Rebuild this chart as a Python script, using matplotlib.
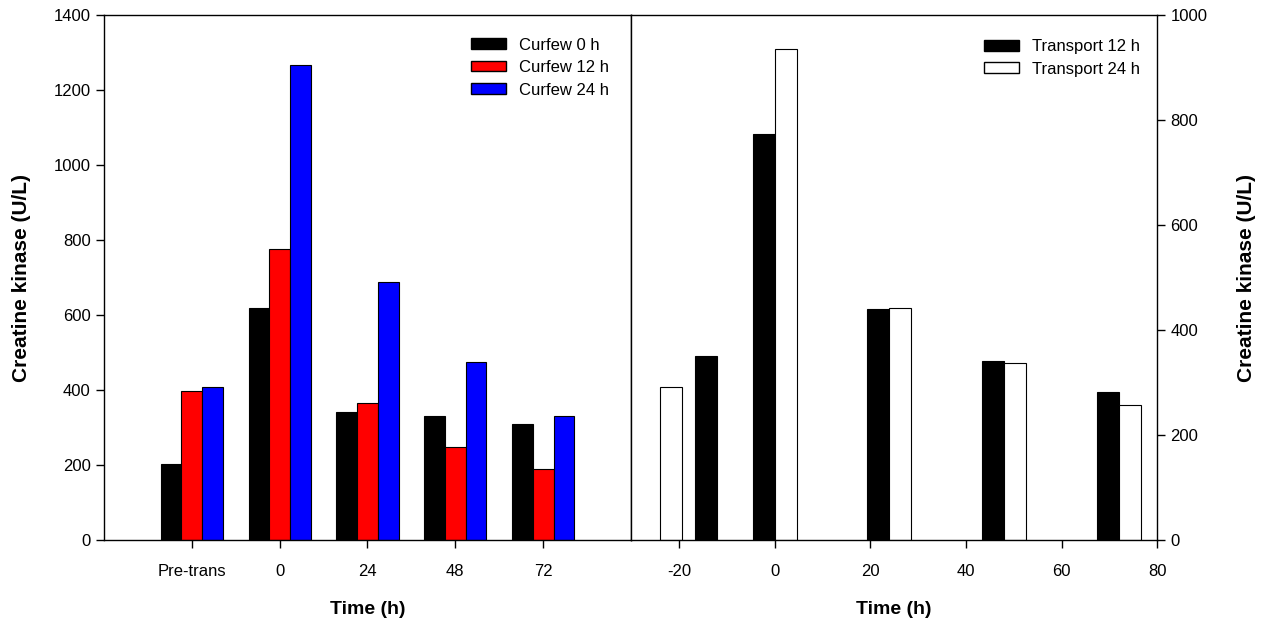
import numpy as np
import matplotlib
matplotlib.use("Agg")
import matplotlib.pyplot as plt
from matplotlib.patches import Patch

plt.rcParams['font.family'] = ['Liberation Sans', 'DejaVu Sans']
plt.rcParams['axes.unicode_minus'] = False

# Curfew experiment (left panel)
curfew_times = ['Pre-trans', '0', '24', '48', '72']
curfew_0h = [202, 618, 342, 330, 309]
curfew_12h = [397, 775, 366, 248, 189]
curfew_24h = [408, 1268, 687, 475, 330]

# Transport experiment (right panel)
transport_12h_t = [-12, 0, 24, 48, 72]
transport_12h = [350, 773, 440, 341, 282]
transport_24h_t = [-24, 0, 24, 48, 72]
transport_24h = [291, 935, 442, 337, 257]

fig = plt.figure(figsize=(12.63, 6.25), dpi=100)
ax1 = fig.add_axes([0.0823, 0.136, 0.4173, 0.840])
ax2 = fig.add_axes([0.4996, 0.136, 0.4167, 0.840])

tick_kw = dict(direction='out', length=6, width=1, labelsize=12)
leg_kw = dict(frameon=False, fontsize=12, handlelength=2.1, handleheight=0.6,
              labelspacing=0.45, handletextpad=0.8, borderpad=0, borderaxespad=0)

# left panel: grouped bars
x = np.arange(1, len(curfew_times) + 1)
w = 0.236
ax1.bar(x - w, curfew_0h, w, color='black', edgecolor='black', linewidth=0.8)
ax1.bar(x, curfew_12h, w, color='red', edgecolor='black', linewidth=0.8)
ax1.bar(x + w, curfew_24h, w, color='blue', edgecolor='black', linewidth=0.8)
ax1.set_xlim(0, 6)
ax1.set_ylim(0, 1400)
ax1.set_xticks(x)
ax1.set_xticklabels(curfew_times)
ax1.set_yticks(np.arange(0, 1401, 200))
ax1.tick_params(**tick_kw)
ax1.tick_params(axis='x', pad=11)
ax1.set_ylabel('Creatine kinase (U/L)', fontsize=15, fontweight='bold', labelpad=16)
ax1.set_xlabel('Time (h)', fontsize=14, fontweight='bold', labelpad=16)
ax1.legend(handles=[Patch(facecolor='black', edgecolor='black', label='Curfew 0 h'),
                    Patch(facecolor='red', edgecolor='black', label='Curfew 12 h'),
                    Patch(facecolor='blue', edgecolor='black', label='Curfew 24 h')],
           loc='upper left', bbox_to_anchor=(0.696, 0.957), **leg_kw)

# right panel: bars placed on a real time axis
bw = 4.6
ax2.bar(transport_12h_t, transport_12h, -bw, align='edge', color='black',
        edgecolor='black', linewidth=0.8)
ax2.bar(transport_24h_t, transport_24h, bw, align='edge', color='white',
        edgecolor='black', linewidth=0.8)
ax2.set_xlim(-30, 80)
ax2.set_ylim(0, 1000)
ax2.set_xticks(np.arange(-20, 81, 20))
ax2.set_yticks(np.arange(0, 1001, 200))
ax2.yaxis.tick_right()
ax2.yaxis.set_label_position('right')
ax2.tick_params(**tick_kw)
ax2.tick_params(axis='x', pad=11)
ax2.set_ylabel('Creatine kinase (U/L)', fontsize=15, fontweight='bold', labelpad=21)
ax2.set_xlabel('Time (h)', fontsize=14, fontweight='bold', labelpad=16)
ax2.legend(handles=[Patch(facecolor='black', edgecolor='black', label='Transport 12 h'),
                    Patch(facecolor='white', edgecolor='black', label='Transport 24 h')],
           loc='upper left', bbox_to_anchor=(0.671, 0.954), **leg_kw)

for ax in (ax1, ax2):
    for s in ax.spines.values():
        s.set_linewidth(1)

fig.savefig('out.png', dpi=100)
